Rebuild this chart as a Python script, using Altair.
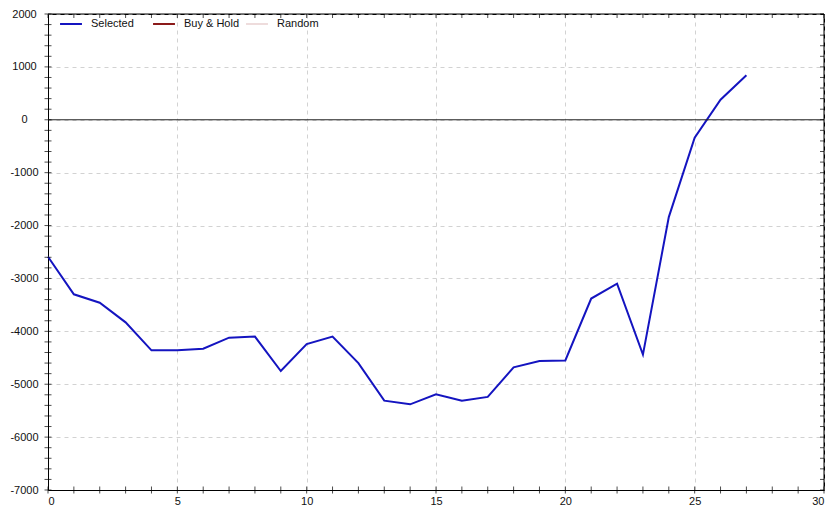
import altair as alt
import pandas as pd

# ---- data ----
x_vals = list(range(28))
selected = [-2590, -3300, -3460, -3830, -4360, -4360, -4330, -4120, -4100, -4750,
            -4240, -4100, -4600, -5310, -5380, -5190, -5310, -5240, -4680, -4560,
            -4550, -3380, -3100, -4440, -1840, -340, 380, 840]
series_names = ["Selected", "Buy & Hold", "Random"]
series_colors = ["#1414C0", "#8B1A1A", "#EEDCDC"]

x_major = list(range(0, 31, 5))
x_minor = list(range(0, 31))
y_major = list(range(-7000, 2001, 1000))
y_minor = list(range(-7000, 2001, 200))
zero_line = [0]

W, H = 776, 476
FONT = "Liberation Sans"

df = pd.DataFrame({"x": x_vals, "value": selected, "series": ["Selected"] * len(x_vals)})

xscale = alt.Scale(domain=[x_major[0], x_major[-1]], nice=False, zero=False)
yscale = alt.Scale(domain=[y_major[0], y_major[-1]], nice=False, zero=False)

xaxis = alt.Axis(values=x_major, grid=True, gridDash=[4, 4], gridColor="#d2d2d2",
                 ticks=False, tickSize=0, labelPadding=5, domainColor="black", title=None,
                 labelFontSize=11, labelFont=FONT, labelColor="#111",
                 labelExpr="'' + datum.value")
yaxis = alt.Axis(values=y_major, grid=True, gridDash=[4, 4], gridColor="#d2d2d2",
                 ticks=False, tickSize=0, labelPadding=24, labelAlign="center",
                 domainColor="black", title=None,
                 labelFontSize=11, labelFont=FONT, labelColor="#111",
                 labelExpr="'' + datum.value")

line = alt.Chart(df).mark_line(strokeWidth=2).encode(
    x=alt.X("x:Q", scale=xscale, axis=xaxis),
    y=alt.Y("value:Q", scale=yscale, axis=yaxis),
    color=alt.Color("series:N",
                    scale=alt.Scale(domain=series_names, range=series_colors),
                    legend=alt.Legend(title=None, orient="none", legendX=11, legendY=-2,
                                      direction="horizontal", symbolType="stroke",
                                      symbolStrokeWidth=2, symbolSize=480,
                                      labelFontSize=11, labelFont=FONT, labelColor="#111",
                                      labelOffset=8, columnPadding=2, gridAlign="all",
                                      padding=0)),
)

zero = alt.Chart(pd.DataFrame({"z": zero_line})).mark_rule(color="#222", strokeWidth=1).encode(
    y=alt.Y("z:Q", scale=yscale, axis=yaxis)
)

# solid frame on the top and right edges (domain maxima)
top_edge = alt.Chart(pd.DataFrame({"z": [y_major[-1]]})).mark_rule(color="black", strokeWidth=1).encode(
    y=alt.Y("z:Q", scale=yscale, axis=yaxis)
)
right_edge = alt.Chart(pd.DataFrame({"z": [x_major[-1]]})).mark_rule(color="black", strokeWidth=1).encode(
    x=alt.X("z:Q", scale=xscale, axis=xaxis)
)

left_ticks = alt.Chart(pd.DataFrame({"v": y_minor})).mark_tick(
    orient="horizontal", size=7, thickness=1, color="black").encode(
    y=alt.Y("v:Q", scale=yscale, axis=yaxis), x=alt.value(0))
right_ticks = alt.Chart(pd.DataFrame({"v": y_minor})).mark_tick(
    orient="horizontal", size=4, thickness=1, color="black").encode(
    y=alt.Y("v:Q", scale=yscale, axis=yaxis), x=alt.value(W - 2))
bottom_ticks = alt.Chart(pd.DataFrame({"v": x_minor})).mark_tick(
    orient="vertical", size=7, thickness=1, color="black").encode(
    x=alt.X("v:Q", scale=xscale, axis=xaxis), y=alt.value(H))
top_ticks = alt.Chart(pd.DataFrame({"v": x_minor})).mark_tick(
    orient="vertical", size=4, thickness=1, color="black").encode(
    x=alt.X("v:Q", scale=xscale, axis=xaxis), y=alt.value(2))

chart = alt.layer(line, zero, top_edge, right_edge,
                  left_ticks, right_ticks, bottom_ticks, top_ticks).properties(
    width=W, height=H,
    padding={"left": 40, "top": 6, "right": 8, "bottom": 17},
    autosize=alt.AutoSizeParams(type="none"),
).configure_view(stroke="black", strokeWidth=1)

chart.save("out.html", embed_options={"renderer": "svg", "actions": False})
